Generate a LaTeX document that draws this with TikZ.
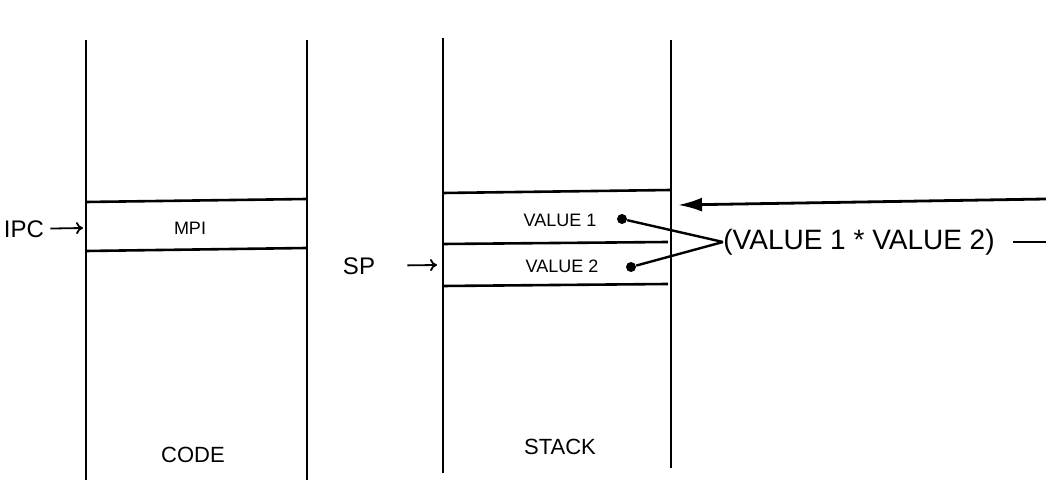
\documentclass[tikz,border=0pt]{standalone}
\usepackage{fontspec}
\setmainfont{Liberation Sans}
\usetikzlibrary{arrows.meta, positioning}
\tikzset{
  wall/.style={line width=1pt},
  slot/.style={line width=1.3pt},
  cell/.style={inner sep=0pt, font=\fontsize{9}{11}\selectfont},
  lbl/.style={inner sep=0pt, font=\fontsize{11}{13}\selectfont},
  reg/.style={inner sep=0pt, font=\fontsize{12}{14}\selectfont},
  expr/.style={inner sep=0pt, font=\fontsize{14}{16}\selectfont},
  ptr/.style={-{To[length=3.5pt, width=6pt]}, line width=0.9pt},
  link/.style={line width=1.2pt},
  feed/.style={-{Latex[length=12pt, width=7pt]}, line width=1.4pt},
  dotend/.style={circle, fill, inner sep=0pt, minimum size=5pt}
}
\begin{document}
\begin{tikzpicture}[x=0.5pt, y=-0.5pt]
\useasboundingbox (0,0) rectangle (1046,480);
% code column
\draw[wall] (86,40) -- (86,480);
\draw[wall] (307,40) -- (307,480);
\draw[slot] (86,202) -- (307,199);
\draw[slot] (86,251) -- (307,248);
\node[cell] (mpi) at (190,228) {MPI};
\node[reg] (ipc) at (24,229) {IPC};
\coordinate (ipcin) at (83,228);
\draw[ptr, shorten <=3pt] (ipc) -- (ipcin);
\node[lbl] (code) at (193,455) {CODE};
% stack column
\draw[wall] (443,38) -- (443,473);
\draw[wall] (671,40) -- (671,468);
\draw[slot] (443,193) -- (671,190);
\draw[slot] (443,244) -- (668,242);
\draw[slot] (443,286) -- (668,284);
\node[cell] (v1) at (560,220) {VALUE 1};
\node[cell] (v2) at (562,266) {VALUE 2};
\node[dotend] (d1) at (622,219) {};
\node[dotend] (d2) at (631,267) {};
\node[reg] (sp) at (359,266) {SP};
\coordinate (spin) at (437,265);
\draw[ptr, shorten <=16pt] (sp) -- (spin);
\node[lbl] (stack) at (560,447) {STACK};
% product
\node[expr, anchor=west] (prod) at (723,242) {(VALUE 1 * VALUE 2)};
\draw[link] (d1) -- (prod.west);
\draw[link] (d2) -- (prod.west);
\coordinate (tail) at (1046,240);
\draw[link, shorten <=9pt] (prod.east) -- (prod.east -| tail);
\coordinate (inR) at (1046,199);
\coordinate (stkin) at (678,205);
\draw[feed] (inR) -- (stkin);
\end{tikzpicture}
\end{document}
